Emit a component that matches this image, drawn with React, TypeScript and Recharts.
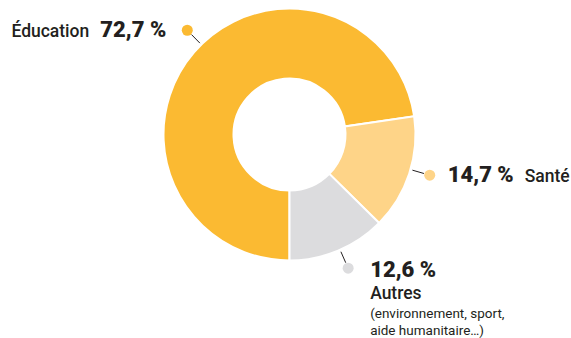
import React from 'react';
import { PieChart, Pie, Cell } from 'recharts';

const categories = ['Éducation', 'Santé', 'Autres'];
const shares = [72.7, 14.7, 12.6];
const notes: string[][] = [[], [], ['(environnement, sport,', 'aide humanitaire…)']];
const colors = ['#FBBA32', '#FED488', '#DCDCDE'];

const data = categories.map((name, i) => ({ name, value: shares[i] }));

const INK = '#231F20';
const RAD = Math.PI / 180;
// small angular nudges so the callout dots sit where the layout wants them
const dotShift = [-4.7, 2, 1];

const fmt = (v: number) => v.toFixed(1).replace('.', ',') + ' %';

const renderLabel = (props: any) => {
  const { cx, cy, midAngle, outerRadius, index, value } = props;
  const a = (midAngle + dotShift[index]) * RAD;
  const cos = Math.cos(-a);
  const sin = Math.sin(-a);
  const pt = (r: number) => [cx + r * cos, cy + r * sin];
  const [x1, y1] = pt(outerRadius + 2);
  const [x2, y2] = pt(outerRadius + 14);
  const [dx, dy] = pt(outerRadius + 20);
  const name = categories[index];
  const color = colors[index];

  let text: React.ReactNode = null;
  if (index === 0) {
    text = (
      <text x={dx - 21} y={dy + 7} textAnchor="end" fill={INK} fontFamily="Roboto">
        <tspan fontSize={17.5} fontWeight={500}>{name}</tspan>
        <tspan dx={11} fontSize={22} fontWeight={900}>{fmt(value)}</tspan>
      </text>
    );
  } else if (index === 1) {
    text = (
      <text x={dx + 18} y={dy + 7} textAnchor="start" fill={INK} fontFamily="Roboto">
        <tspan fontSize={22} fontWeight={900}>{fmt(value)}</tspan>
        <tspan dx={11} fontSize={17.5} fontWeight={500}>{name}</tspan>
      </text>
    );
  } else {
    text = (
      <text x={dx + 22} y={dy + 9} textAnchor="start" fill={INK} fontFamily="Roboto">
        <tspan fontSize={22} fontWeight={900}>{fmt(value)}</tspan>
        <tspan x={dx + 22} dy={22} fontSize={17.5} fontWeight={500}>{name}</tspan>
        {notes[index].map((line, k) => (
          <tspan key={k} x={dx + 22} dy={k === 0 ? 19 : 17} fontSize={13.5} fontWeight={400}>
            {line}
          </tspan>
        ))}
      </text>
    );
  }

  return (
    <g>
      <line x1={x1} y1={y1} x2={x2} y2={y2} stroke={INK} strokeWidth={1} />
      <circle cx={dx} cy={dy} r={5.5} fill={color} />
      {text}
    </g>
  );
};

const App: React.FC = () => {
  return (
    <div style={{ position: 'absolute', left: 0, top: 0, width: 571, height: 338, background: '#fff' }}>
      <PieChart width={571} height={338} margin={{ top: 0, right: 0, bottom: 0, left: 0 }}>
        <Pie
          data={data}
          dataKey="value"
          nameKey="name"
          cx={289.5}
          cy={134.5}
          innerRadius={56}
          outerRadius={126}
          startAngle={270}
          endAngle={-90}
          stroke="#fff"
          strokeWidth={2}
          label={renderLabel}
          labelLine={false}
          isAnimationActive={false}
        >
          {data.map((d, i) => (
            <Cell key={d.name} fill={colors[i]} />
          ))}
        </Pie>
      </PieChart>
    </div>
  );
};

export default App;
